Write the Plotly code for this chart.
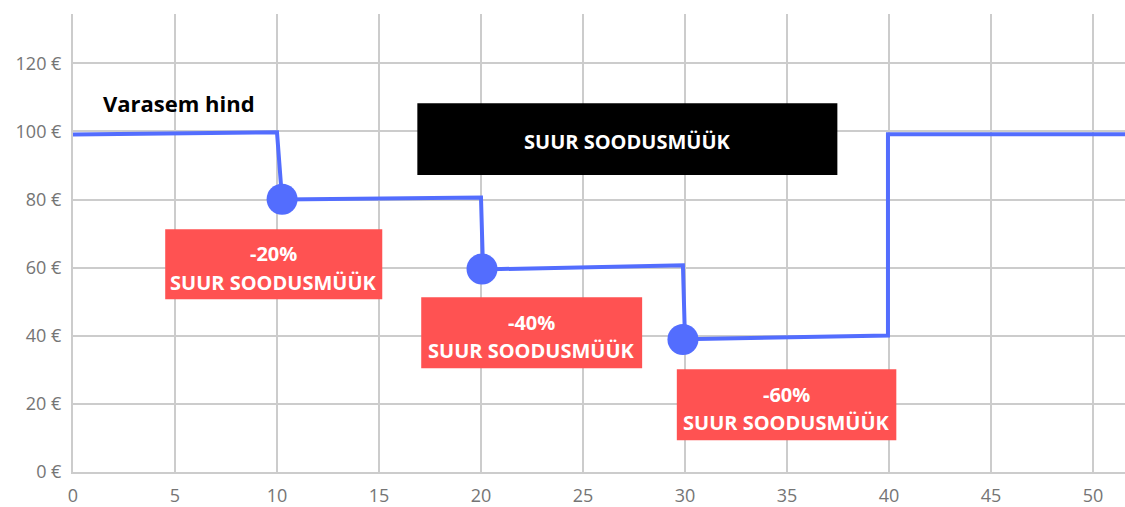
import plotly.graph_objects as go

# ---- data ----
price_x = [0, 10.0, 10.25, 20.0, 20.1, 29.9, 30.0, 39.95, 39.95, 52]
price_y = [99.1, 99.8, 80.0, 80.6, 59.5, 60.7, 39.0, 40.1, 99.2, 99.2]

sale_x = [10.25, 20.05, 29.9]
sale_y = [80.1, 59.6, 38.9]
discount_labels = ["-20%", "-40%", "-60%"]
sale_text = "SUUR SOODUSMÜÜK"
previous_price_label = "Varasem hind"

x_ticks = [0, 5, 10, 15, 20, 25, 30, 35, 40, 45, 50]
y_ticks = [0, 20, 40, 60, 80, 100, 120]
y_tick_labels = ["0 €", "20 €", "40 €", "60 €", "80 €", "100 €", "120 €"]

# ---- styling / layout constants ----
BLUE = "#536DFE"
RED = "#FF5252"
GRID = "#cccccc"
TICK = "#757575"
FONT = "Open Sans"

# label boxes (x0, x1, y0, y1) in data units
red_boxes = [(4.52, 15.16, 50.75, 71.3), (17.07, 27.9, 30.5, 51.3), (29.6, 40.36, 9.3, 30.2)]
black_box = (16.88, 37.47, 87.2, 108.3)

fig = go.Figure()
fig.add_trace(go.Scatter(x=price_x, y=price_y, mode="lines",
                         line=dict(color=BLUE, width=4), hoverinfo="skip", showlegend=False))
fig.add_trace(go.Scatter(x=sale_x, y=sale_y, mode="markers",
                         marker=dict(color=BLUE, size=31), hoverinfo="skip", showlegend=False))

shapes = []
annotations = []
for (x0, x1, y0, y1), lab in zip(red_boxes, discount_labels):
    shapes.append(dict(type="rect", xref="x", yref="y", x0=x0, x1=x1, y0=y0, y1=y1,
                       fillcolor=RED, line=dict(width=0), layer="above"))
    cx = (x0 + x1) / 2
    cy = (y0 + y1) / 2
    annotations.append(dict(x=cx, y=cy, xref="x", yref="y", text=f"<b>{lab}</b>", showarrow=False,
                            yshift=10.5, font=dict(family=FONT, size=20, color="white")))
    annotations.append(dict(x=cx, y=cy, xref="x", yref="y", text=f"<b>{sale_text}</b>", showarrow=False,
                            yshift=-18, font=dict(family=FONT, size=20, color="white")))

x0, x1, y0, y1 = black_box
shapes.append(dict(type="rect", xref="x", yref="y", x0=x0, x1=x1, y0=y0, y1=y1,
                   fillcolor="black", line=dict(width=0), layer="above"))
annotations.append(dict(x=(x0 + x1) / 2, y=(y0 + y1) / 2, xref="x", yref="y",
                        text=f"<b>{sale_text}</b>", showarrow=False, yshift=-2,
                        font=dict(family=FONT, size=20, color="white")))
annotations.append(dict(x=5.22, y=108.3, xref="x", yref="y", text=f"<b>{previous_price_label}</b>",
                        showarrow=False, font=dict(family=FONT, size=22, color="black")))

fig.update_layout(
    width=1125, height=507,
    margin=dict(l=73, r=0, t=14, b=35),
    plot_bgcolor="white", paper_bgcolor="white",
    shapes=shapes, annotations=annotations,
    showlegend=False,
    xaxis=dict(range=[0, 51.57], tickvals=x_ticks, showgrid=True, gridcolor=GRID, gridwidth=1.5,
               zeroline=False, showline=True, linecolor=GRID, linewidth=2, automargin=False,
               tickfont=dict(family=FONT, size=18, color=TICK), ticklabelstandoff=6),
    yaxis=dict(range=[0, 134.5], tickvals=y_ticks, ticktext=y_tick_labels, showgrid=True,
               gridcolor=GRID, gridwidth=1.5, zeroline=False, showline=True, linecolor=GRID, linewidth=2,
               automargin=False,
               tickfont=dict(family=FONT, size=18, color=TICK), ticklabelstandoff=6),
)

# remove the default page margin so the figure fills the window exactly
fig.write_html("out.html", config={"displayModeBar": False},
               post_script="document.body.style.margin='0px';document.body.style.overflow='hidden';")
